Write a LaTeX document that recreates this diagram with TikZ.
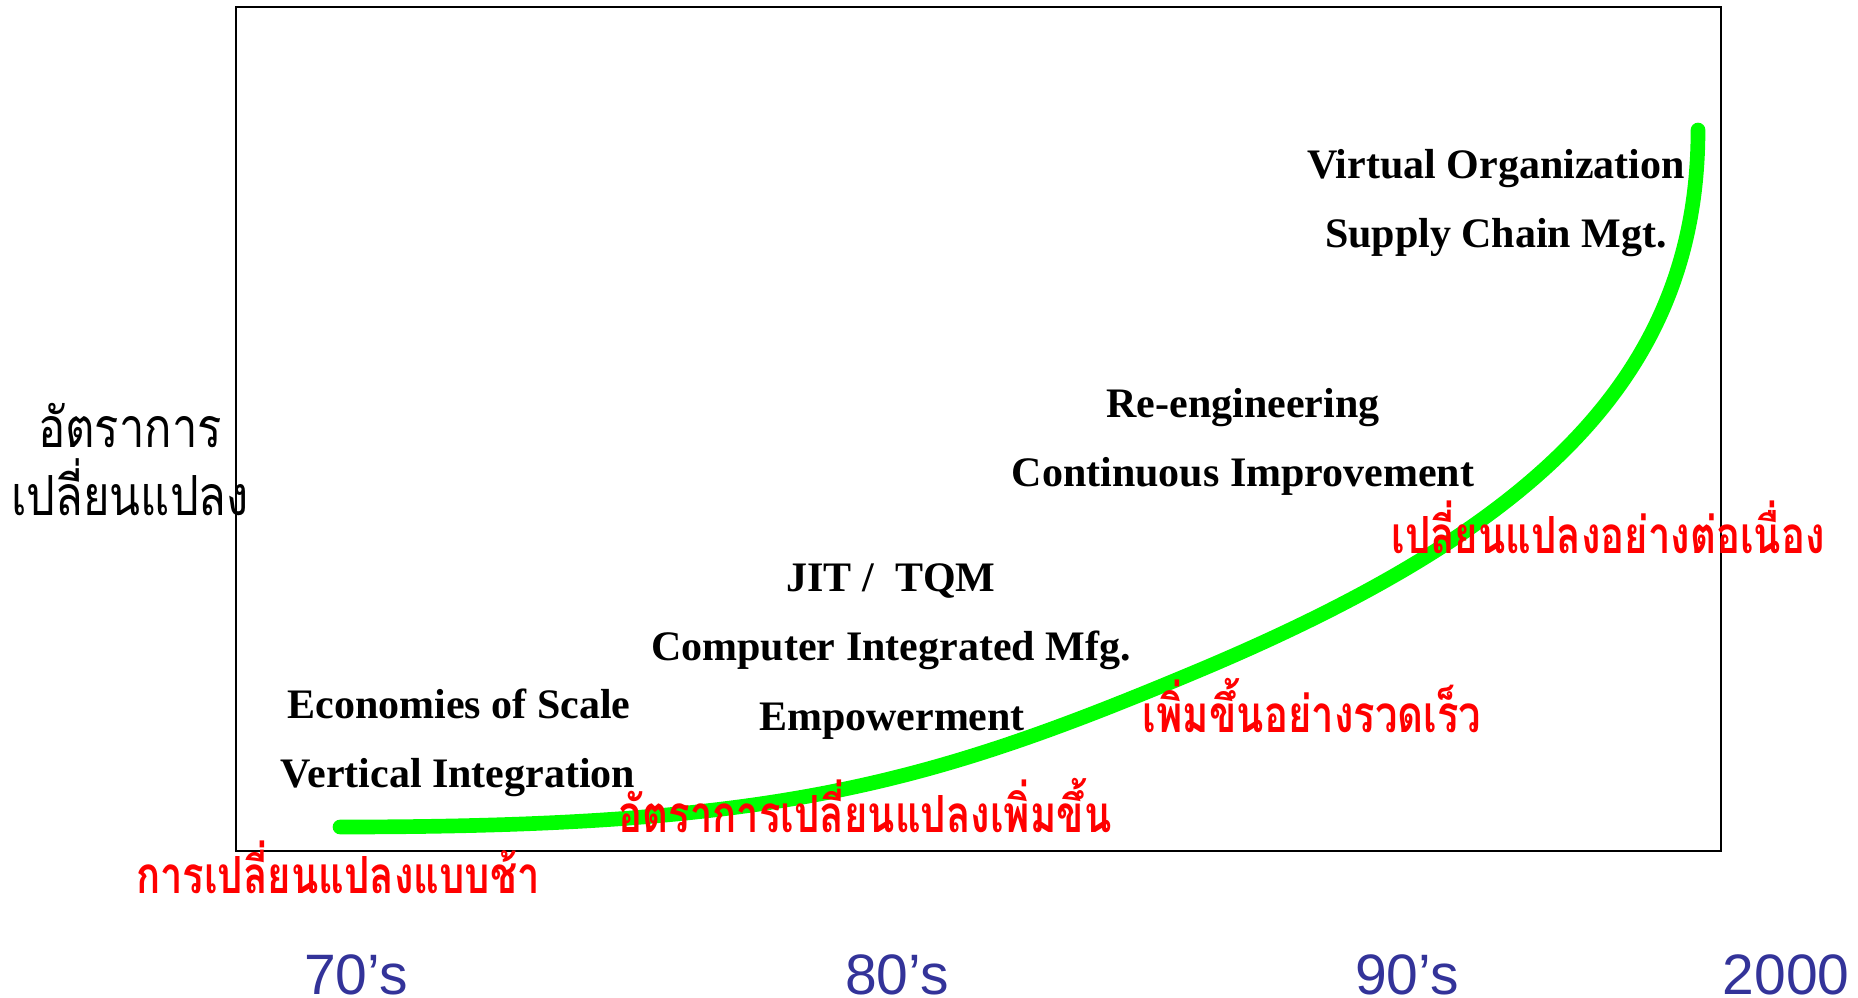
\documentclass[tikz,border=0pt]{standalone}
\usepackage{fontspec}
\setmainfont{Liberation Serif}
\newfontfamily\thaifont[Script=Thai]{Loma}
\newfontfamily\decfont{Liberation Sans}
\definecolor{curvegreen}{RGB}{0,255,0}
\definecolor{decblue}{RGB}{51,51,153}
\definecolor{notered}{RGB}{255,0,0}
% Thai text drawn a little taller than the font's own proportions
\newcommand{\tallthai}[2]{\scalebox{1}[#1]{#2}}
\begin{document}
\begin{tikzpicture}[x=0.75pt,y=-0.75pt,
  trend/.style={anchor=base,inner sep=0pt,font=\fontsize{31.5}{36}\selectfont\bfseries},
  phase/.style={anchor=base,inner sep=0pt,text=notered,font=\thaifont\bfseries\fontsize{30}{36}\selectfont},
  axislabel/.style={anchor=base,inner sep=0pt,font=\thaifont\fontsize{34}{40}\selectfont},
  decade/.style={anchor=base,inner sep=0pt,text depth=0pt,text=decblue,font=\decfont\fontsize{42.75}{50}\selectfont}]
\useasboundingbox (0,0) rectangle (1858,998);
% frame of the chart
\draw[line width=2pt] (236,7) rectangle (1721,851);
% growth curve
\coordinate (c0) at (340,827);
\coordinate (c1) at (1200,670);
\coordinate (c2) at (1698,130);
\draw[curvegreen,line width=11pt,line cap=round]
  (c0) .. controls (776,827) and (924,786) .. (c1)
       .. controls (1530,531) and (1698,380) .. (c2);
% management practices per period
\node[trend] (vo) at (1496,179) {Virtual Organization};
\node[trend] (scm) at (1496,248) {Supply Chain Mgt.};
\node[trend] (re) at (1243,417) {Re-engineering};
\node[trend] (ci) at (1243,486) {Continuous Improvement};
\node[trend] (jit) at (891,591) {JIT /\ \ TQM};
\node[trend] (cim) at (891,660) {Computer Integrated Mfg.};
\node[trend] (emp) at (892,730) {Empowerment};
\node[trend] (eos) at (459,718) {Economies of Scale};
\node[trend] (vi) at (458,787) {Vertical Integration};
% rate of change descriptions
\node[phase] (p4) at (1608,553) {\tallthai{1.28}{เปลี่ยนแปลงอย่างต่อเนื่อง}};
\node[phase] (p3) at (1312,732) {\tallthai{1.28}{เพิ่มขึ้นอย่างรวดเร็ว}};
\node[phase] (p2) at (865,832) {\tallthai{1.28}{อัตราการเปลี่ยนแปลงเพิ่มขึ้น}};
\node[phase] (p1) at (338,893) {\tallthai{1.28}{การเปลี่ยนแปลงแบบช้า}};
% vertical axis title
\node[axislabel] (ya1) at (130,447) {\tallthai{1.22}{อัตราการ}};
\node[axislabel] (ya2) at (130,515) {\tallthai{1.22}{เปลี่ยนแปลง}};
% decades along the bottom
\node[decade] (d70) at (356,994) {70’s};
\node[decade] (d80) at (897,994) {80’s};
\node[decade] (d90) at (1407,994) {90’s};
\node[decade] (d00) at (1786,994) {2000};
\end{tikzpicture}
\end{document}
